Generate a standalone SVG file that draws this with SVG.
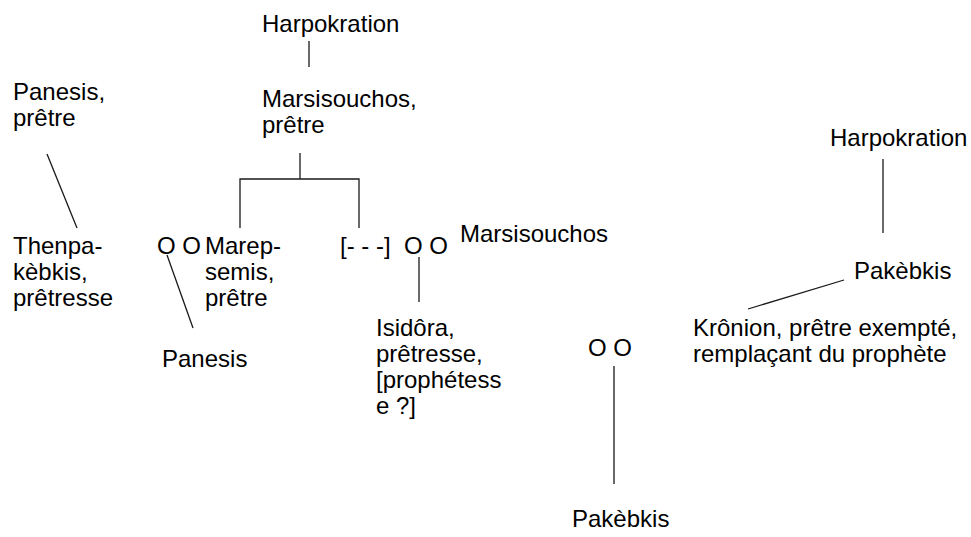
<svg xmlns="http://www.w3.org/2000/svg" width="971" height="537" viewBox="0 0 971 537">
<style>
text{font-family:"Liberation Sans",Arial,sans-serif;font-size:24px;fill:#000}
.c line,.c path{stroke:#1a1a1a;stroke-width:1.3;fill:none}
</style>
<rect width="971" height="537" fill="#fff"/>
<g class="c" id="connectors">
<line x1="309" y1="41" x2="309" y2="67"/>
<line x1="47" y1="154" x2="77" y2="228"/>
<line x1="300" y1="153" x2="300" y2="179"/>
<path d="M240 228V179H359V228"/>
<line x1="167" y1="255" x2="193" y2="328"/>
<line x1="419" y1="257" x2="419" y2="302"/>
<line x1="883" y1="159" x2="883" y2="233"/>
<line x1="844" y1="280" x2="748" y2="309"/>
<line x1="614" y1="366" x2="614" y2="484"/>
</g>
<g id="harpokration1"><text x="262" y="32">Harpokration</text></g>
<g id="marsisouchos1"><text x="262" y="107">Marsisouchos,</text><text x="262" y="133">prêtre</text></g>
<g id="panesis1"><text x="13" y="100">Panesis,</text><text x="13" y="126">prêtre</text></g>
<g id="thenpakebkis"><text x="13" y="254">Thenpa-</text><text x="13" y="280">kèbkis,</text><text x="13" y="306">prêtresse</text></g>
<g id="oo1"><text x="157" y="254">O O</text></g>
<g id="marepsemis"><text x="205" y="254">Marep-</text><text x="205" y="280">semis,</text><text x="205" y="306">prêtre</text></g>
<g id="panesis2"><text x="162" y="367">Panesis</text></g>
<g id="unknown"><text x="340" y="254">[- - -]</text></g>
<g id="oo2"><text x="404" y="254">O O</text></g>
<g id="marsisouchos2"><text x="460" y="242">Marsisouchos</text></g>
<g id="isidora"><text x="376" y="336">Isidôra,</text><text x="376" y="362">prêtresse,</text><text x="376" y="388">[prophétess</text><text x="376" y="414">e ?]</text></g>
<g id="harpokration2"><text x="830" y="146">Harpokration</text></g>
<g id="pakebkis1"><text x="854" y="279">Pakèbkis</text></g>
<g id="kronion"><text x="693" y="336">Krônion, prêtre exempté,</text><text x="693" y="362">remplaçant du prophète</text></g>
<g id="oo3"><text x="588" y="356">O O</text></g>
<g id="pakebkis2"><text x="572" y="527">Pakèbkis</text></g>
</svg>
